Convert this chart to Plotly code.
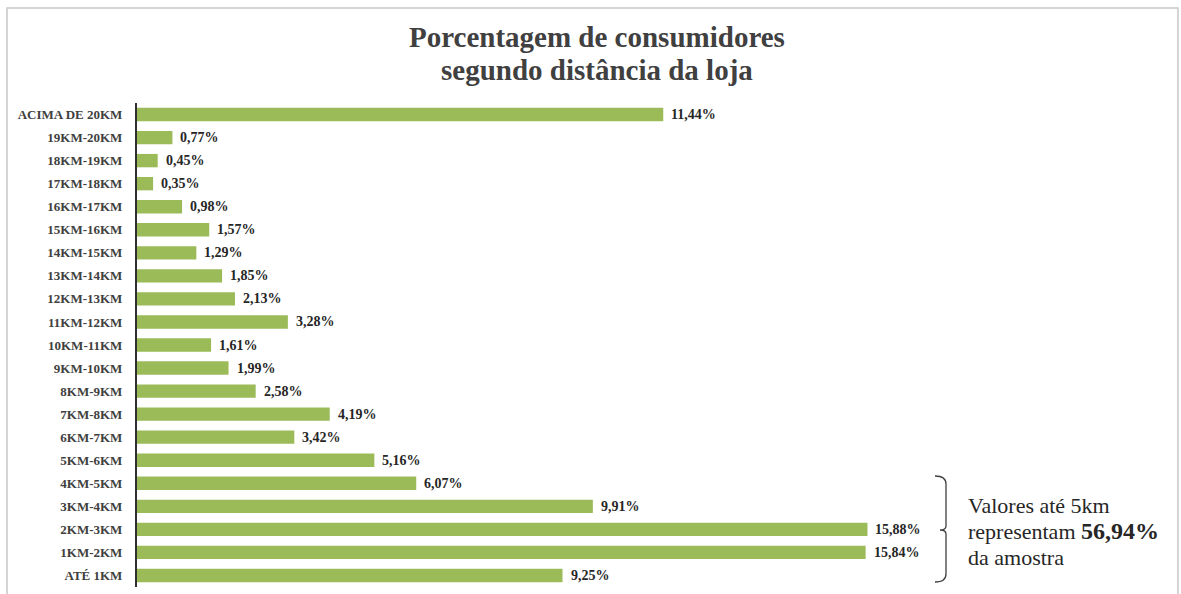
import plotly.graph_objects as go

categories = ["ATÉ 1KM", "1KM-2KM", "2KM-3KM", "3KM-4KM", "4KM-5KM", "5KM-6KM",
              "6KM-7KM", "7KM-8KM", "8KM-9KM", "9KM-10KM", "10KM-11KM", "11KM-12KM",
              "12KM-13KM", "13KM-14KM", "14KM-15KM", "15KM-16KM", "16KM-17KM",
              "17KM-18KM", "18KM-19KM", "19KM-20KM", "ACIMA DE 20KM"]
values = [9.25, 15.84, 15.88, 9.91, 6.07, 5.16, 3.42, 4.19, 2.58, 1.99, 1.61, 3.28,
          2.13, 1.85, 1.29, 1.57, 0.98, 0.35, 0.45, 0.77, 11.44]
labels = [f"{v:.2f}%".replace(".", ",") for v in values]

W, H = 1181, 594
L, R, T, B = 137, 1057, 103, 587


def px(x):
    return (x - L) / (R - L)


def py(y):
    return (B - y) / (B - T)


fig = go.Figure()
fig.add_trace(go.Bar(
    x=values, y=categories, orientation="h",
    marker=dict(color="#9BBB59", line=dict(width=0)),
    width=0.58,
))

for v, c, t in zip(values, categories, labels):
    fig.add_annotation(x=v, y=c, xref="x", yref="y", text=f"<b>{t}</b>",
                       showarrow=False, xanchor="left", yanchor="middle", xshift=6,
                       font=dict(family="Liberation Serif", size=14, color="#262626"))

# brace
bx0, bx1, bxm = 935, 946, 940
by0, by1, bym = 476, 582, 530
path = (f"M {px(bx0)},{py(by0)} Q {px(bx1)},{py(by0)} {px(bx1)},{py(by0+8)} "
        f"L {px(bx1)},{py(bym-4)} Q {px(bx1)},{py(bym)} {px(bxm)},{py(bym)} "
        f"Q {px(bx1)},{py(bym)} {px(bx1)},{py(bym+4)} "
        f"L {px(bx1)},{py(by1-8)} Q {px(bx1)},{py(by1)} {px(bx0)},{py(by1)}")
fig.add_shape(type="path", path=path, xref="paper", yref="paper",
              line=dict(color="#404040", width=1.3))

# border
fig.add_shape(type="rect", xref="paper", yref="paper",
              x0=px(7), x1=px(1178), y0=py(605), y1=py(8),
              line=dict(color="#c8c8c8", width=1.5))

note_lines = ["Valores até 5km",
              "representam <b><span style='font-size:24px'>56,94%</span></b>",
              "da amostra"]
for line, ypix in zip(note_lines, [505, 531, 557]):
    fig.add_annotation(xref="paper", yref="paper", x=px(966), y=py(ypix),
                       xanchor="left", yanchor="middle", align="left", showarrow=False,
                       text=line,
                       font=dict(family="Liberation Serif", size=22, color="#262626"))

title_lines = ["Porcentagem de consumidores", "segundo distância da loja"]
for line, ypix in zip(title_lines, [37, 70]):
    fig.add_annotation(xref="paper", yref="paper", x=0.5, y=py(ypix),
                       xanchor="center", yanchor="middle", showarrow=False,
                       text=f"<b>{line}</b>",
                       font=dict(family="Liberation Serif", size=29, color="#404040"))

fig.update_layout(
    width=W, height=H,
    margin=dict(l=L, r=W - R, t=T, b=H - B, autoexpand=False),
    paper_bgcolor="white", plot_bgcolor="white",
    showlegend=False,
    xaxis=dict(range=[0, 20], visible=False, fixedrange=True),
    yaxis=dict(range=[-0.5, 20.5], showline=True, linecolor="#303030", linewidth=2,
               ticks="", showgrid=False, ticklabelstandoff=10,
               tickfont=dict(family="Liberation Serif", size=13, color="#404040", weight="bold")),
)

fig.write_html("out.html")
